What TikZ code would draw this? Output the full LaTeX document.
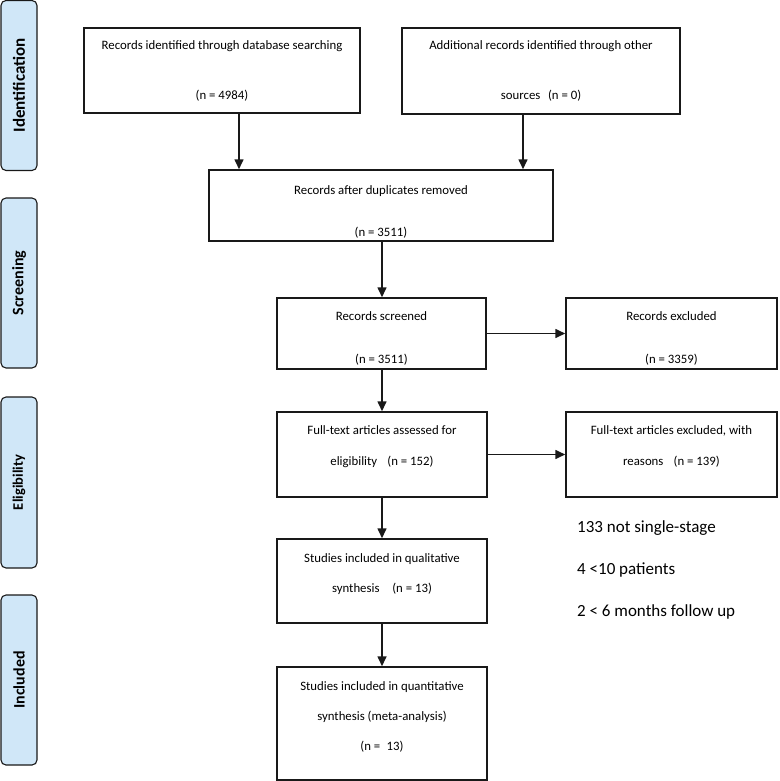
\documentclass[tikz,border=0pt]{standalone}
\usepackage{fontspec}
\setmainfont{Carlito}
\usetikzlibrary{arrows.meta}
\definecolor{phasecol}{RGB}{208,231,248}
\definecolor{edge}{RGB}{25,25,25}
\begin{document}
\begin{tikzpicture}[x=1pt,y=-1pt,
  flowbox/.style={draw=edge,line width=1.5pt,inner sep=0pt,fill=white},
  txt/.style={font=\fontsize{12.8}{14}\selectfont,inner sep=0pt,anchor=center,text height=1.6ex,text depth=.4ex},
  arr/.style={line width=1.6pt,draw=edge,-{Triangle[length=10pt,width=9pt]}},
  phase/.style={draw=edge,line width=1.1pt,fill=phasecol,rounded corners=5pt,rotate=90,
    minimum width=170pt,minimum height=36pt,inner sep=0pt},
  note/.style={font=\fontsize{17}{20}\selectfont,anchor=west,inner sep=0pt}]
\useasboundingbox (0,0) rectangle (779,781);

% phase labels
\node[phase,font=\bfseries\fontsize{17}{19}\selectfont] (pid) at (19,85.5) {Identification};
\node[phase,font=\bfseries\fontsize{16}{18}\selectfont] (psc) at (19,283) {Screening};
\node[phase,font=\bfseries\fontsize{14.5}{17}\selectfont,minimum width=171pt] (pel) at (19,482.5) {Eligibility};
\node[phase,font=\bfseries\fontsize{16}{18}\selectfont] (pin) at (19,680) {Included};

% boxes
\node[flowbox,minimum width=276pt,minimum height=85pt] (b1) at (222,70.5) {};
\node[flowbox,minimum width=278pt,minimum height=86pt] (b2) at (541,71) {};
\node[flowbox,minimum width=344pt,minimum height=71pt] (dup) at (381,205.5) {};
\node[flowbox,minimum width=209pt,minimum height=71pt] (scr) at (381.5,333.5) {};
\node[flowbox,minimum width=211pt,minimum height=71pt] (rex) at (671.5,333.5) {};
\node[flowbox,minimum width=210pt,minimum height=85pt] (ft) at (382,454.5) {};
\node[flowbox,minimum width=211pt,minimum height=85pt] (fex) at (671.5,454.5) {};
\node[flowbox,minimum width=210pt,minimum height=84pt] (qual) at (382,581) {};
\node[flowbox,minimum width=210pt,minimum height=113pt] (quant) at (382,723.5) {};

% texts
\node[txt] (b1a) at (222,47) {Records identified through database searching};
\node[txt] (b1b) at (222,97) {(n = 4984)};
\node[txt] (b2a) at (541,47) {Additional records identified through other};
\node[txt] (b2b) at (541,97) {sources\hspace{0.6em}(n = 0)};
\node[txt] (dupa) at (381,192) {Records after duplicates removed};
\node[txt] (dupb) at (381,234) {(n = 3511)};
\node[txt] (scra) at (381.5,318) {Records screened};
\node[txt] (scrb) at (381.5,361) {(n = 3511)};
\node[txt] (rexa) at (671.5,318) {Records excluded};
\node[txt] (rexb) at (671.5,361) {(n = 3359)};
\node[txt] (fta) at (382,432) {Full-text articles assessed for};
\node[txt] (ftb) at (382,463) {eligibility\hspace{0.8em}(n = 152)};
\node[txt] (fexa) at (671.5,432) {Full-text articles excluded, with};
\node[txt] (fexb) at (671.5,463) {reasons\hspace{0.8em}(n = 139)};
\node[txt] (quala) at (382,560) {Studies included in qualitative};
\node[txt] (qualb) at (382,590) {synthesis\hspace{1em}(n = 13)};
\node[txt] (quanta) at (382,688) {Studies included in quantitative};
\node[txt] (quantb) at (382,718) {synthesis (meta-analysis)};
\node[txt] (quantc) at (382,748) {(n =\hspace{0.5em}13)};

% reasons
\node[note] (r1) at (577,528) {133 not single-stage};
\node[note] (r2) at (577,570) {4 <10 patients};
\node[note] (r3) at (577,612) {2 < 6 months follow up};

% connectors
\coordinate (ax1) at (239,0);
\coordinate (ax2) at (523,0);
\coordinate (axc) at (382,0);
\draw[arr] (b1.south -| ax1) -- (dup.north -| ax1);
\draw[arr] (b2.south -| ax2) -- (dup.north -| ax2);
\draw[arr] (dup.south -| axc) -- (scr.north -| axc);
\draw[arr] (scr.south -| axc) -- (ft.north -| axc);
\draw[arr] (ft.south -| axc) -- (qual.north -| axc);
\draw[arr] (qual.south -| axc) -- (quant.north -| axc);
\draw[arr] (scr.east) -- (rex.west);
\draw[arr] (ft.east) -- (fex.west);
\end{tikzpicture}
\end{document}
